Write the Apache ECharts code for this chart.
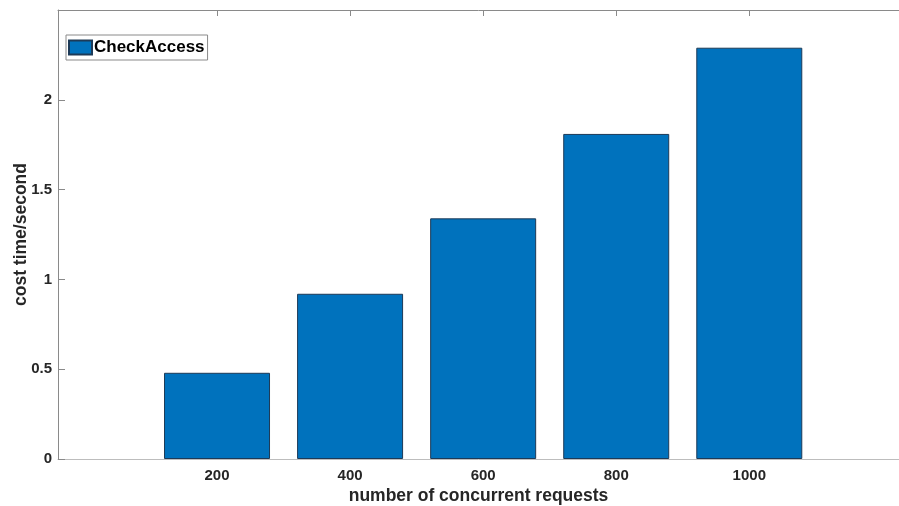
<!DOCTYPE html>
<html>
<head>
<meta charset="utf-8">
<script src="https://cdn.jsdelivr.net/npm/echarts@6/dist/echarts.min.js"></script>
<style>html,body{margin:0;padding:0;background:#fff;}#c{width:899px;height:506px;}</style>
</head>
<body>
<div id="c"></div>
<script>
const categories = [200, 400, 600, 800, 1000];
const checkAccess = [0.48, 0.92, 1.34, 1.81, 2.29];
const yTicks = [0, 0.5, 1, 1.5, 2];
const seriesName = 'CheckAccess';

const chart = echarts.init(document.getElementById('c'));
const font = '"Liberation Sans", Arial, sans-serif';
const axisGray = '#8a8a8a';
const textCol = '#262626';

chart.setOption({
  animation: false,
  grid: { left: 58, right: 0, top: 10, bottom: 47, containLabel: false, outerBoundsMode: 'none' },
  legend: {
    left: 66, top: 35,
    orient: 'vertical',
    itemWidth: 23, itemHeight: 14,
    padding: [4, 3, 4, 2],
    itemGap: 0,
    borderColor: '#8a8a8a', borderWidth: 1,
    backgroundColor: '#fff',
    textStyle: { fontFamily: font, fontSize: 17, fontWeight: 'bold', color: '#000', padding: [0, 0, 0, -3] },
    data: [{ name: seriesName, icon: 'rect' }]
  },
  xAxis: [{
    type: 'value',
    min: -39, max: 1225,
    name: 'number of concurrent requests',
    nameLocation: 'middle',
    nameGap: 28,
    nameMoveOverlap: false,
    nameTextStyle: { fontFamily: font, fontSize: 17.5, fontWeight: 'bold', color: textCol },
    axisLine: { onZero: false, lineStyle: { color: '#bdbdbd', width: 1 } },
    axisTick: { inside: true, length: 6, lineStyle: { color: '#2a3f55' }, customValues: categories },
    axisLabel: { customValues: categories, formatter: v => String(v), fontFamily: font, fontSize: 15, fontWeight: 'bold', color: textCol, margin: 9 },
    splitLine: { show: false }
  }, {
    type: 'value',
    position: 'top',
    min: -39, max: 1225,
    axisLine: { show: true, onZero: false, lineStyle: { color: axisGray, width: 1 } },
    axisTick: { show: true, inside: true, length: 6, lineStyle: { color: axisGray }, customValues: categories },
    axisLabel: { show: false },
    splitLine: { show: false }
  }],
  yAxis: {
    type: 'value',
    min: 0, max: 2.5,
    name: 'cost time/second',
    nameLocation: 'middle',
    nameGap: 28,
    nameMoveOverlap: false,
    nameTextStyle: { fontFamily: font, fontSize: 17.5, fontWeight: 'bold', color: textCol },
    axisLine: { show: true, onZero: false, lineStyle: { color: axisGray, width: 1 } },
    axisTick: { show: true, inside: true, length: 7, lineStyle: { color: axisGray }, customValues: yTicks },
    axisLabel: { customValues: yTicks, fontFamily: font, fontSize: 15, fontWeight: 'bold', color: textCol, margin: 6 },
    splitLine: { show: false }
  },
  series: [{
    name: seriesName,
    type: 'bar',
    xAxisIndex: 0,
    barWidth: 106,
    itemStyle: { color: '#0072BD', borderColor: '#1d3a57', borderWidth: 1 },
    data: categories.map((c, i) => [c, checkAccess[i]])
  }]
});
</script>
</body>
</html>
